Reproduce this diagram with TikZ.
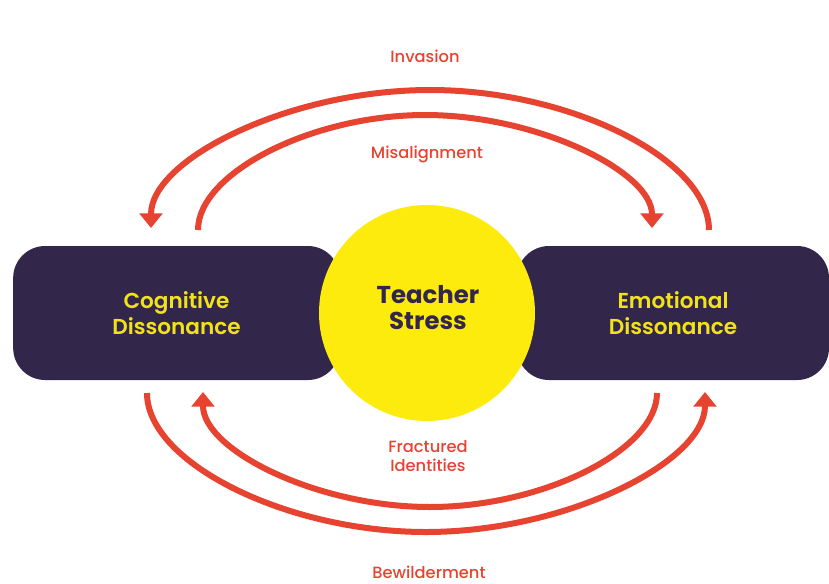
\documentclass[tikz,border=0pt]{standalone}
\usepackage{fontspec}
\setmainfont{Poppins}[BoldFont={Poppins SemiBold}]
\newfontfamily\tagfont{Poppins Medium}
\newfontfamily\heavyfont{Poppins Bold}
\usetikzlibrary{arrows.meta}
\definecolor{navy}{HTML}{33264B}
\definecolor{sun}{HTML}{FDEB0E}
\definecolor{labelyellow}{HTML}{F2E21A}
\definecolor{arrowred}{HTML}{E64331}
\begin{document}
\begin{tikzpicture}[x=0.75pt,y=-0.75pt,
  panel/.style={fill=navy, rounded corners=24pt, minimum height=100.5pt,
    text=labelyellow, font=\bfseries\fontsize{16.2}{19.5}\selectfont, align=center, inner sep=0pt},
  core/.style={circle, fill=sun, minimum size=162pt, inner sep=0pt},
  coretext/.style={text=navy, font=\heavyfont\fontsize{18.3}{19.5}\selectfont, align=center, inner sep=0pt},
  flow/.style={draw=arrowred, line width=4.5pt, -{Triangle[width=17pt,length=11pt]}},
  tag/.style={text=arrowred, font=\tagfont\fontsize{12.2}{14.5}\selectfont, align=center, inner sep=0pt}]
\useasboundingbox (0,0) rectangle (829,583);
\fill[white] (0,0) rectangle (829,583);

% the two dissonance panels and the central circle
\node[panel, minimum width=245pt] (cog) at (176.5,313) {Cognitive\\Dissonance};
\node[panel, minimum width=234pt] (emo) at (673,313) {Emotional\\Dissonance};
\node[core] (stress) at (427,313) {};
\node[coretext] (stressT) at (428,308) {Teacher\\Stress};

% end points of the four arcs
\coordinate (invS) at (709,230);
\coordinate (invE) at (151,228);
\coordinate (misS) at (198,230);
\coordinate (misE) at (652,228);
\coordinate (bewS) at (147,393);
\coordinate (bewE) at (705,392);
\coordinate (fraS) at (657,393);
\coordinate (fraE) at (203,392);

% upper arcs
\draw[flow] (invS) .. controls (709,159) and (570,90) .. (430,90)
  .. controls (290,90) and (151,159) .. (invE);
\draw[flow] (misS) .. controls (198,173) and (312,115) .. (425,115)
  .. controls (538,115) and (652,172) .. (misE);

% lower arcs
\draw[flow] (bewS) .. controls (147,463) and (287,532) .. (426,532)
  .. controls (566,532) and (705,462) .. (bewE);
\draw[flow] (fraS) .. controls (657,450) and (543,507) .. (430,507)
  .. controls (317,507) and (203,450) .. (fraE);

% arc labels
\node[tag] (invL) at (425,56) {Invasion};
\node[tag] (misL) at (427,154) {Misalignment};
\node[tag] (fraL) at (428,456) {Fractured\\Identities};
\node[tag] (bewL) at (429,572) {Bewilderment};
\end{tikzpicture}
\end{document}
